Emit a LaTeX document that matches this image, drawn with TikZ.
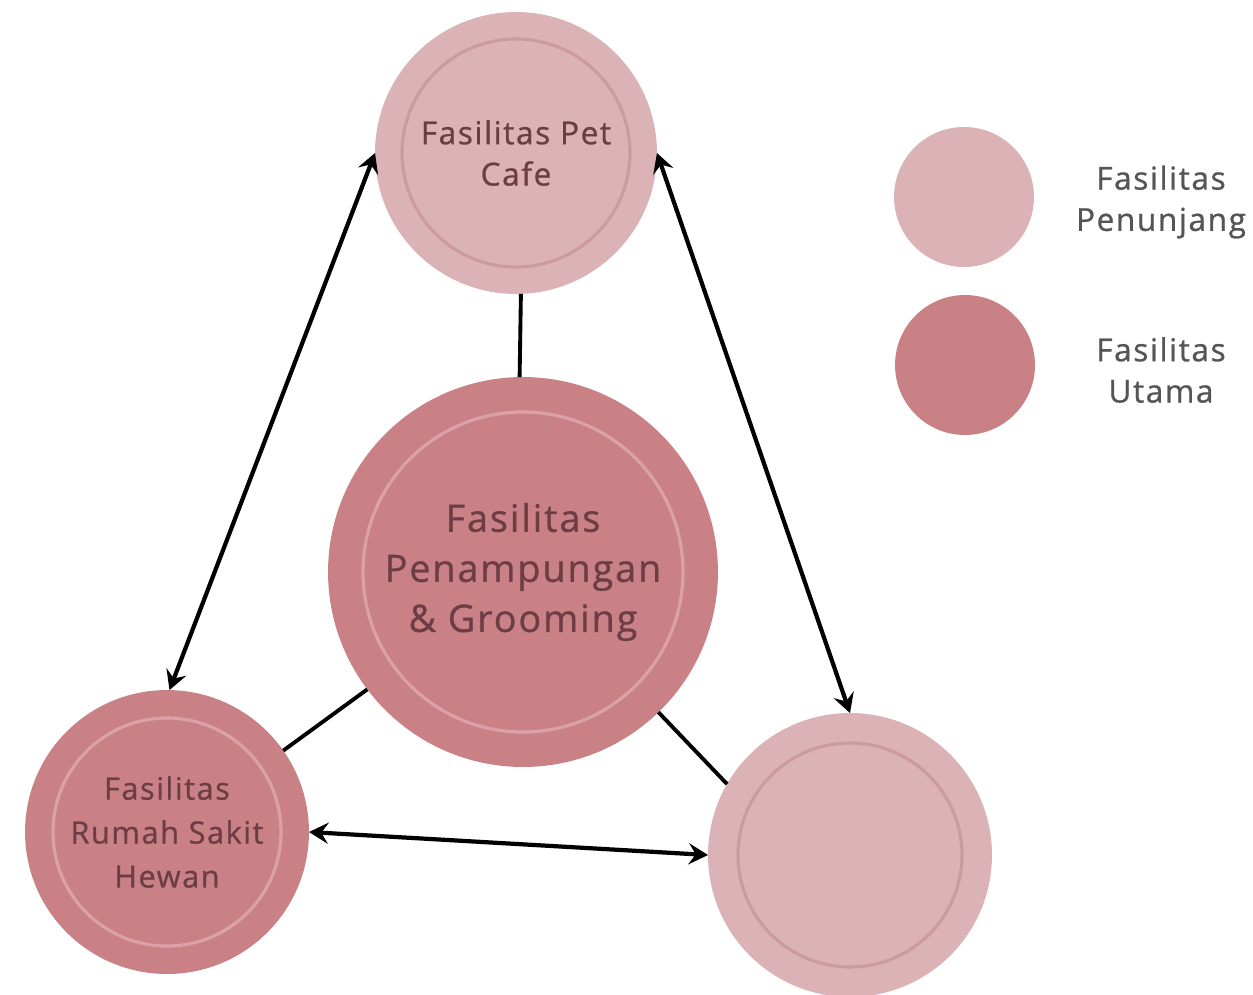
\documentclass[tikz,border=0pt]{standalone}
\usepackage{fontspec}
\setmainfont{Open Sans}[LetterSpace=5,FakeBold=0.8]
\usetikzlibrary{arrows.meta}

\definecolor{penunjang}{RGB}{219,178,181}
\definecolor{utama}{RGB}{201,129,134}
\definecolor{cincinmuda}{RGB}{204,155,160}
\definecolor{cincintua}{RGB}{218,162,166}
\definecolor{teks}{RGB}{108,62,68}
\definecolor{legenda}{RGB}{85,85,85}

\begin{document}
\begin{tikzpicture}[x=0.02cm,y=-0.02cm,
    bulat/.style={circle,inner sep=0pt,outer sep=0pt,align=center,text=teks},
    muda/.style={bulat,fill=penunjang},
    tua/.style={bulat,fill=utama},
    garis/.style={line width=2.2pt,black},
    panah/.style={line width=2.4pt,black,
        {Stealth[length=11pt,width=12pt,inset=4pt]}-{Stealth[length=11pt,width=12pt,inset=4pt]}},
    ket/.style={align=center,text=legenda,font=\fontsize{18}{23.5}\selectfont}]

\useasboundingbox (0,0) rectangle (1253,994);

% lingkaran
\node [muda,minimum size=5.64cm,font=\fontsize{18}{23.5}\selectfont] (cafe) at (516,153) {Fasilitas Pet\\Cafe};
\node [tua,minimum size=7.8cm,font=\fontsize{21.5}{28.5}\selectfont] (tampung) at (523,572) {Fasilitas\\Penampungan\\\& Grooming};
\node [tua,minimum size=5.68cm,font=\fontsize{17.5}{25}\selectfont] (rs) at (167,832) {Fasilitas\\Rumah Sakit\\Hewan};
\node [muda,minimum size=5.68cm] (kosong) at (850,855) {};

% cincin dalam
\foreach \n/\r in {cafe/114,kosong/112}
    \draw [line width=1.8pt,cincinmuda] (\n.center) circle [radius=\r];
\foreach \n/\r in {tampung/160,rs/114}
    \draw [line width=1.8pt,cincintua] (\n.center) circle [radius=\r];

% legenda
\node [muda,minimum size=2.8cm] (l1) at (964,197) {};
\node [tua,minimum size=2.8cm] (l2) at (965,365) {};
\node [ket] (k1) at (1161,202) {Fasilitas\\Penunjang};
\node [ket] (k2) at (1161,370) {Fasilitas\\Utama};

% hubungan
\draw [garis] (cafe.-88) -- (tampung.91);
\draw [garis] (tampung.217) -- (rs.35);
\draw [garis] (tampung.-46) -- (kosong.150);

\draw [panah] (rs.89) -- (cafe.180);
\draw [panah] (cafe.0) -- (kosong.90);
\draw [panah] (rs.0) -- (kosong.180);

\end{tikzpicture}
\end{document}
